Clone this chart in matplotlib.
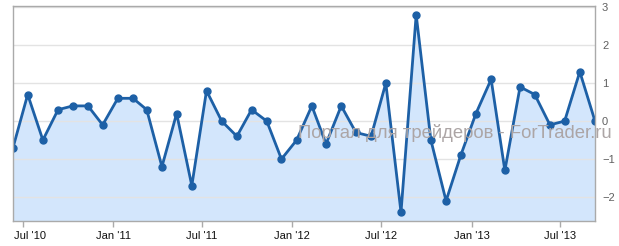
import matplotlib
matplotlib.use("Agg")
import matplotlib.pyplot as plt
import matplotlib.transforms as mtransforms
import datetime as dt

# Monthly values Jun 2010 .. Sep 2013
start_year, start_month = 2010, 6
values = [-0.7, 0.7, -0.5, 0.3, 0.4, 0.4, -0.1, 0.6, 0.6, 0.3,
          -1.2, 0.2, -1.7, 0.8, 0.0, -0.4, 0.3, 0.0, -1.0, -0.5,
          0.4, -0.6, 0.4, -0.3, -0.4, 1.0, -2.4, 2.8, -0.5, -2.1,
          -0.9, 0.2, 1.1, -1.3, 0.9, 0.7, -0.1, 0.0, 1.3, 0.0]
y_ticks = [-2, -1, 0, 1, 2, 3]
y_tick_labels = ["\u22122", "\u22121", "0", "1", "2", "3"]
x_tick_dates = [(2010, 7), (2011, 1), (2011, 7), (2012, 1), (2012, 7), (2013, 1), (2013, 7)]
x_tick_labels = ["Jul '10", "Jan '11", "Jul '11", "Jan '12", "Jul '12", "Jan '13", "Jul '13"]
watermark = "Портал для трейдеров - ForTrader.ru"

dates = []
for i in range(len(values)):
    m = start_month - 1 + i
    dates.append(dt.date(start_year + m // 12, m % 12 + 1, 10))

plt.rcParams['font.family'] = ['Liberation Sans', 'DejaVu Sans']

fig = plt.figure(figsize=(6.19, 2.46), dpi=100)
ax = fig.add_axes([13/619, 1-221/246, (595-13)/619, (221-6)/246])

line_color = "#1d60a6"
fill_color = "#d3e6fc"

ax.fill_between(dates, values, -10, color=fill_color, zorder=1, linewidth=0)
ax.plot(dates, values, color=line_color, linewidth=2, marker='o', markersize=5, zorder=4)

ax.set_xlim(dates[0], dates[-1])
ax.set_ylim(-2.63, 3.03)

for t in y_ticks:
    ax.axhline(t, color="#e3e3e3", linewidth=1, zorder=2)

ax.yaxis.tick_right()
ax.set_yticks(y_ticks)
ax.set_yticklabels(y_tick_labels)
ax.tick_params(axis='y', length=0, pad=5, labelsize=8, colors="#606060")
ax.set_xticks([dt.date(y, m, 1) for y, m in x_tick_dates])
ax.set_xticklabels(x_tick_labels)
ax.tick_params(axis='x', length=4, width=1, color="#aaaaaa", pad=3, labelsize=8, labelcolor="#111111")

# first label nudged right to stay inside the chart
first = ax.get_xticklabels()[0]
first.set_transform(first.get_transform() + mtransforms.ScaledTranslation(6.5/100, 0, fig.dpi_scale_trans))

for s in ax.spines.values():
    s.set_color("#aaaaaa")
    s.set_linewidth(1)
    s.set_zorder(5)

fig.text(612/619, 1-133/246, watermark, ha='right', va='center', fontsize=13.3,
         color="#aca5a5", zorder=3)

fig.savefig("out.png", dpi=100)
